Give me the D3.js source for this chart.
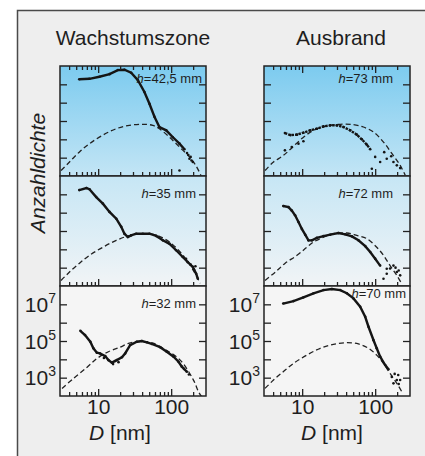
<!DOCTYPE html>
<html>
<head>
<meta charset="utf-8">
<script src="https://cdn.jsdelivr.net/npm/d3@7"></script>
<style>
body { margin: 0; background: #fff; }
svg text { font-family: "Liberation Sans", Arial, sans-serif; fill: #1e1e1e; }
</style>
</head>
<body>
<div id="wrapper"></div>
<script>
// values: [D in nm, Anzahldichte]
const growth425Measured = [[5.5,1.9e7],[7.6,2.0e7],[10.4,2.6e7],[14.3,3.6e7],[18.6,6.0e7],[22.9,6.3e7],[28.3,4.3e7],[35,1.7e7],[43,3.8e6],[50.4,8.7e5],[59,1.7e5],[69,4.7e4],[85.5,3.1e4],[105.5,1.3e4],[130,5.8e3],[152,2.9e3]];
const growth425Scatter = [[165,1.8e3],[172,1.4e3],[178,8.7e2],[185,1.1e3],[190,7.0e2],[198,5.8e2],[130,2.0e2]];
const growth425Fit = [[3.1,2.0e2],[4.05,5.8e2],[5.5,2.0e3],[7.6,5.8e3],[11.6,1.7e4],[17.7,3.8e4],[26.8,5.8e4],[40.9,6.6e4],[56,5.8e4],[69,3.8e4],[95,1.3e4],[130,3.8e3],[178,1.1e3],[220,3.5e2],[258,1.0e2]];

const growth35Measured = [[5.5,1.7e7],[6.9,2.2e7],[7.6,1.9e7],[9.4,7.1e6],[11.6,3.1e6],[14.3,1.1e6],[17.7,4.7e5],[20.7,1.7e5],[22.9,7.1e4],[25.5,4.7e4],[28.3,5.8e4],[33.2,7.1e4],[40.9,7.1e4],[50.4,7.1e4],[62.3,5.4e4],[76.9,3.1e4],[95,2.0e4],[117,8.9e3],[144,3.8e3],[169,2.0e3],[198,1.1e3],[220,4.7e2],[232,2.5e2]];
const growth35Scatter = [[185,1.5e3],[205,8.0e2],[215,1.2e3],[160,3.0e3]];
const growth35Fit = [[3.1,2.0e2],[4.05,5.8e2],[5.5,1.7e3],[7.6,4.7e3],[11.6,1.3e4],[17.7,3.1e4],[26.8,5.6e4],[40.9,7.2e4],[62,6.0e4],[95,2.5e4],[144,4.9e3],[200,7.4e2],[250,1.4e2]];

const growth32Measured = [[5.7,3.6e5],[6.6,2.1e5],[7.8,9.1e4],[8.6,4.0e4],[9.6,2.3e4],[10.6,2.1e4],[12.5,1.5e4],[13.8,9.1e3],[15.4,6.6e3],[18,9.1e3],[21.1,1.3e4],[23.4,2.1e4],[27.4,6.0e4],[33.9,9.1e4],[39.7,1.0e5],[46.5,8.5e4],[54.4,6.9e4],[70.6,4.6e4],[87,2.6e4],[108,1.4e4],[126,7.4e3],[140,4.0e3],[164,2.1e3]];
const growth32Scatter = [[12,1.2e4],[16,5.5e3],[17,8.0e3],[19,7.0e3],[150,3.0e3],[175,1.5e3]];
const growth32Fit = [[3.2,2.6e2],[4.6,9.2e2],[7.0,3.6e3],[9.6,1.1e4],[13.8,2.6e4],[20,4.6e4],[26,7.4e4],[37.6,9.3e4],[55,7.8e4],[85,3.2e4],[133,9.1e3],[202,7.4e2],[237,1.7e2],[263,9.0e1]];

const burnout73Measured = [[5.8,2.2e4],[6.9,1.7e4],[8.5,1.8e4],[10.4,2.3e4],[12.9,3.1e4],[15.9,3.8e4],[19.6,5.1e4],[24.2,5.8e4],[29.9,5.8e4],[36.8,4.7e4],[45.5,3.1e4],[56,1.8e4],[65.7,1.0e4],[77,5.1e3],[85.5,2.9e3]];
const burnout73Scatter = [[5.8,2.5e3],[7.2,3.8e3],[8.9,5.8e3],[10.4,7.8e3],[90,2.5e2],[100,1.1e3],[117,5.8e2],[133,2.0e3],[144,8.7e2],[166,1.2e3],[178,5.8e2],[198,3.8e2],[220,2.7e2]];
const burnout73Fit = [[3.1,2.0e2],[4.05,5.8e2],[5.5,1.3e3],[7.2,3.4e3],[9.9,1.1e4],[14.3,3.1e4],[21.8,5.3e4],[33.2,6.6e4],[50.4,6.3e4],[69,4.7e4],[95,2.5e4],[130,7.1e3],[169,1.7e3],[220,3.8e2],[258,1.1e2]];

const burnout72Measured = [[5.5,2.3e6],[6.5,2.0e6],[7.2,1.3e6],[8.0,7.2e5],[8.9,3.1e5],[9.9,1.3e5],[11,6.3e4],[12.2,3.1e4],[13.6,3.1e4],[15.9,4.2e4],[19.6,5.3e4],[24.2,6.3e4],[31.4,7.8e4],[38.8,6.6e4],[48,5.1e4],[59,3.1e4],[73,1.5e4],[85.5,7.1e3],[100,3.1e3],[117,1.3e3]];
const burnout72Scatter = [[130,2.5e2],[144,8.7e2],[144,4.7e2],[160,9.0e2],[178,1.3e3],[190,1.0e3],[198,5.8e2],[210,7.0e2],[220,3.8e2]];
const burnout72Fit = [[3.1,2.0e2],[4.3,5.8e2],[5.8,1.7e3],[8.5,4.7e3],[11.6,1.3e4],[14.3,2.5e4],[19.6,4.6e4],[26.8,7.1e4],[40.9,7.8e4],[56,5.8e4],[77,3.8e4],[105,1.3e4],[130,4.7e3],[160,1.3e3],[198,3.8e2],[232,1.3e2]];

const burnout70Measured = [[5.5,1.1e7],[7.6,1.5e7],[10.4,2.4e7],[14.3,4.0e7],[19.6,6.0e7],[25.5,6.9e7],[33.2,6.0e7],[40.9,4.0e7],[50.4,2.1e7],[62.3,7.4e6],[73,2.1e6],[81,6.0e5],[95,1.1e5],[105,4.0e4],[117,1.4e4],[137,4.9e3],[152,2.9e3]];
const burnout70Scatter = [[169,1.1e3],[178,4.9e2],[185,1.6e3],[198,7.4e2],[207,1.4e3],[210,4.5e2],[220,7.4e2]];
const burnout70Fit = [[3.1,2.6e2],[4.05,7.4e2],[5.5,2.1e3],[7.6,6.0e3],[11.6,1.7e4],[17.7,4.0e4],[26.8,6.6e4],[40.9,8.1e4],[59,6.9e4],[81,4.0e4],[105,1.7e4],[130,6.0e3],[160,1.7e3],[198,4.9e2],[232,1.7e2]];

const columnTitles = ["Wachstumszone", "Ausbrand"];
const heights = [["42,5", "35", "32"], ["73", "72", "70"]];
const yTicks = [1e3, 1e4, 1e5, 1e6, 1e7];
const yLabelExps = [7, 5, 3];
const xMajor = [10, 100];
const xMinor = [4, 5, 6, 7, 8, 9, 20, 30, 40, 50, 60, 70, 80, 90, 200];

const panels = [
    { col: 0, row: 0, measured: growth425Measured, scatter: growth425Scatter, fit: growth425Fit },
    { col: 0, row: 1, measured: growth35Measured, scatter: growth35Scatter, fit: growth35Fit },
    { col: 0, row: 2, measured: growth32Measured, scatter: growth32Scatter, fit: growth32Fit },
    { col: 1, row: 0, measured: burnout73Measured, scatter: burnout73Scatter, fit: burnout73Fit },
    { col: 1, row: 1, measured: burnout72Measured, scatter: burnout72Scatter, fit: burnout72Fit },
    { col: 1, row: 2, measured: burnout70Measured, scatter: burnout70Scatter, fit: burnout70Fit }
];

// label anchor: right edge inside the panel, baseline below the panel top
const labelPos = [[142, 17], [136, 22], [136, 22], [129, 17], [129, 22], [142, 12]];

const dimension = {
    width: 425,
    height: 456,
    colX: [60, 264],
    rowY: [66, 176, 286],
    panelW: 146,
    panelH: 110
};

const svg = d3.select("#wrapper").append("svg")
    .attr("width", dimension.width)
    .attr("height", dimension.height);

const defs = svg.append("defs");
const skyStops = [["#7ccbef", "#c3e5f5"], ["#c6e6f5", "#f1f4f6"]];
skyStops.forEach((s, i) => {
    const g = defs.append("linearGradient").attr("id", "sky" + i)
        .attr("x1", 0).attr("y1", 0).attr("x2", 0).attr("y2", 1);
    g.append("stop").attr("offset", 0).attr("stop-color", s[0]);
    g.append("stop").attr("offset", 1).attr("stop-color", s[1]);
});

svg.append("rect")
    .attr("x", 17.5).attr("y", 10.5)
    .attr("width", 440).attr("height", 470)
    .attr("fill", "#eeeeee")
    .attr("stroke", "#4a4a4a")
    .attr("stroke-width", 1.5);

const xScaler = d3.scaleLog().domain([3, 300]).range([0, dimension.panelW]);
const yScaler = d3.scaleLog().domain([1e2, 1e8]).range([dimension.panelH, 0]);

const lineGenerator = d3.line()
    .x(d => xScaler(d[0]))
    .y(d => yScaler(d[1]));

const fitGenerator = d3.line()
    .x(d => xScaler(d[0]))
    .y(d => yScaler(d[1]))
    .curve(d3.curveCatmullRom);

panels.forEach((p, i) => {
    const x0 = dimension.colX[p.col], y0 = dimension.rowY[p.row];
    const g = svg.append("g").attr("transform", `translate(${x0},${y0})`);

    g.append("rect")
        .attr("width", dimension.panelW).attr("height", dimension.panelH)
        .attr("fill", p.row < 2 ? `url(#sky${p.row})` : "#f5f5f5");

    defs.append("clipPath").attr("id", "clip" + i)
        .append("rect").attr("width", dimension.panelW).attr("height", dimension.panelH);

    const plot = g.append("g").attr("clip-path", `url(#clip${i})`);

    plot.append("path")
        .attr("d", fitGenerator(p.fit))
        .attr("fill", "none")
        .attr("stroke", "#222")
        .attr("stroke-width", 1.3)
        .attr("stroke-dasharray", "5,3");

    plot.append("path")
        .attr("d", lineGenerator(p.measured))
        .attr("fill", "none")
        .attr("stroke", "#151515")
        .attr("stroke-width", 2.4)
        .attr("stroke-dasharray", i === 3 ? "2.5,1" : null);

    plot.selectAll("circle.m")
        .data(p.measured.concat(p.scatter))
        .join("circle")
        .attr("cx", d => xScaler(d[0]))
        .attr("cy", d => yScaler(d[1]))
        .attr("r", 1.3)
        .attr("fill", "#151515");

    // x ticks on the bottom edge, pointing in
    const xAxis = d3.axisBottom(xScaler)
        .tickValues(xMinor.concat(xMajor))
        .tickSize(-4)
        .tickPadding(3)
        .tickFormat(d => (p.row === 2 && xMajor.includes(d)) ? d3.format("d")(d) : "");
    const xg = g.append("g")
        .attr("transform", `translate(0,${dimension.panelH})`)
        .call(xAxis);
    xg.selectAll(".tick line").filter(d => xMajor.includes(d)).attr("y2", -7);

    if (p.row === 0) {
        const tg = g.append("g").call(d3.axisTop(xScaler)
            .tickValues(xMinor.concat(xMajor)).tickSize(-4).tickFormat(""));
        tg.selectAll(".tick line").filter(d => xMajor.includes(d)).attr("y2", 7);
    }

    g.append("g").call(d3.axisLeft(yScaler).tickValues(yTicks).tickSize(-7).tickFormat(""));
    g.append("g").attr("transform", `translate(${dimension.panelW},0)`)
        .call(d3.axisRight(yScaler).tickValues(yTicks).tickSize(-7).tickFormat(""));

    g.selectAll(".domain").remove();
    g.selectAll(".tick line").attr("stroke", "#222").attr("stroke-width", 1.3);
    xg.attr("font-size", null).attr("font-family", null);
    xg.selectAll("text").style("font-size", "21px").attr("fill", "#1e1e1e");

    g.append("rect")
        .attr("width", dimension.panelW).attr("height", dimension.panelH)
        .attr("fill", "none")
        .attr("stroke", "#222")
        .attr("stroke-width", 1.5);

    const lp = labelPos[i];
    const label = g.append("text")
        .attr("x", lp[0]).attr("y", lp[1])
        .attr("text-anchor", "end")
        .style("font-size", "13px");
    label.append("tspan").style("font-style", "italic").text("h");
    label.append("tspan").text(`=${heights[p.col][p.row]} mm`);

    if (p.row === 2) {
        yLabelExps.forEach(e => {
            const t = g.append("text")
                .attr("x", -4)
                .attr("y", yScaler(Math.pow(10, e)) + 7.5)
                .attr("text-anchor", "end")
                .style("font-size", "21px");
            t.append("tspan").text("10");
            t.append("tspan").attr("dy", -9).style("font-size", "14px").text(e);
        });

        const xt = svg.append("text")
            .attr("x", x0 + (p.col === 0 ? 60 : 68))
            .attr("y", 440)
            .attr("text-anchor", "middle")
            .style("font-size", "21px");
        xt.append("tspan").style("font-style", "italic").text("D");
        xt.append("tspan").text(" [nm]");
    }
});

columnTitles.forEach((t, i) => {
    svg.append("text")
        .attr("x", i === 0 ? 133 : 341)
        .attr("y", 45)
        .attr("text-anchor", "middle")
        .style("font-size", "21px")
        .text(t);
});

svg.append("text")
    .attr("transform", "translate(45,173) rotate(-90)")
    .attr("text-anchor", "middle")
    .style("font-size", "21px")
    .style("font-style", "italic")
    .text("Anzahldichte");
</script>
</body>
</html>
